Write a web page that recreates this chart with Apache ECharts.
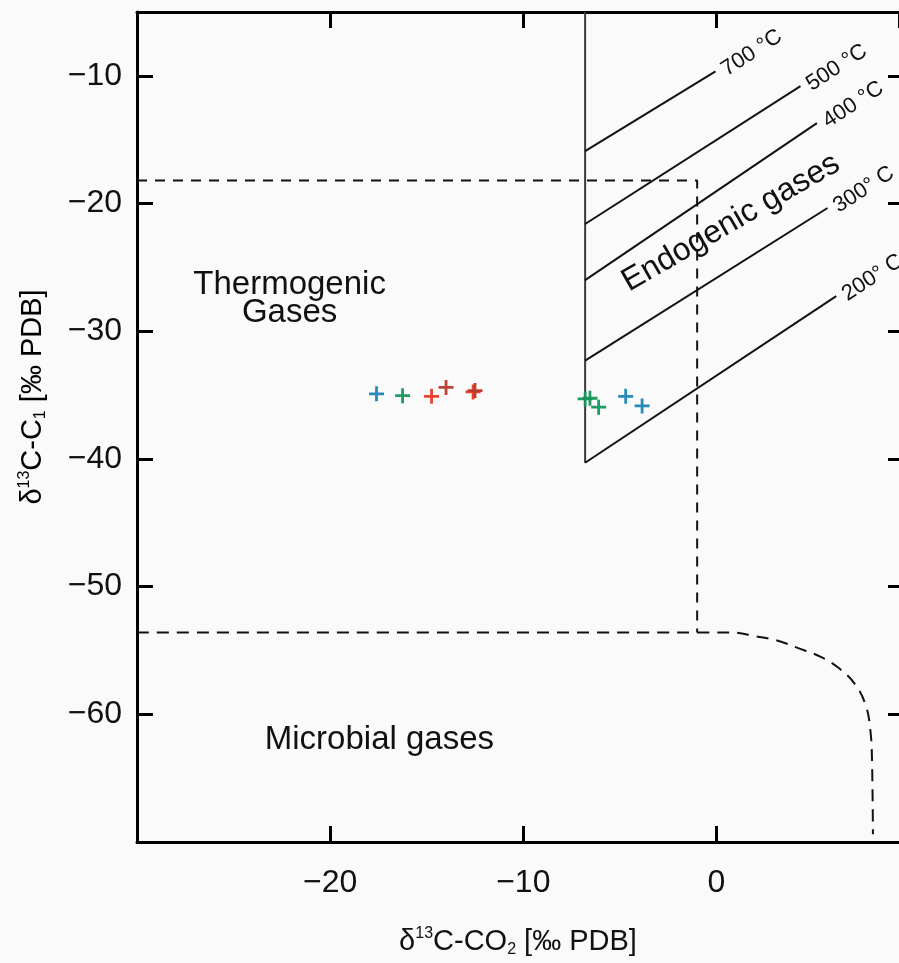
<!DOCTYPE html>
<html><head><meta charset="utf-8">
<script src="https://cdn.jsdelivr.net/npm/echarts@6/dist/echarts.min.js"></script>
<style>html,body{margin:0;padding:0;background:#fafafa}#c{width:899px;height:963px}</style>
</head><body><div id="c"></div>
<script>
// ---- data ----
const blueSamples = [[-17.6,-34.9],[-4.7,-35.1],[-3.85,-35.85]];
const greenSamples = [[-16.25,-35.05],[-6.8,-35.3],[-6.55,-35.25],[-6.1,-35.95]];
const redSamples = [[-14.75,-35.1],[-12.6,-34.75]];
const darkRedSamples = [[-14.0,-34.4],[-12.5,-34.65]];

const endogenicEdge = [[-6.8,-5],[-6.8,-40.3]];
const isothermNames = ['700 °C','500 °C','400 °C','300° C','200° C'];
const isothermStart = [[-6.8,-15.9],[-6.8,-21.6],[-6.8,-26.0],[-6.8,-32.3],[-6.8,-40.3]];
const isothermEnd = [[-0.05,-9.65],[4.35,-10.8],[5.2,-13.7],[5.75,-20.35],[6.2,-27.25]];

const thermoBoundary = [[-30,-18.2],[-1,-18.2],[-1,-53.6]];
const microbialBoundary = [[-30,-53.6],[0.9,-53.6],[2.05,-53.9],[3.1,-54.2],[4.2,-54.8],[5.4,-55.5],[6.35,-56.4],[7.2,-57.7],[7.75,-59.4],[7.97,-61.3],[8.05,-63.4],[8.1,-69.4]];

const fieldNames = ['Thermogenic\nGases','Microbial gases'];
const fieldPos = [[-22.1,-27.5],[-17.45,-62.0]];
const endogenicName = 'Endogenic gases';
const endogenicPos = [0.75,-21.5];

const xRange = [-30, 9.45];
const yRange = [-70, -5];

const xTitle = '{m|δ}{sup|13}{m|C-CO}{sub|2}{m| [‰ PDB]}';
const yTitle = '{m|δ}{sup|13}{m|C-C}{sub|1}{m| [‰ PDB]}';

// ---- chart ----
const FONT = '"Liberation Sans", Arial, sans-serif';
const TXT = '#111';
const minus = v => String(v).replace('-', '\u2212');
const crossPath = 'path://M6.5,0h3v6.5h6.5v3h-6.5v6.5h-3v-6.5h-6.5v-3h6.5z';
const richTitle = {
  m: {fontSize: 29, fontFamily: FONT, color: TXT, lineHeight: 32},
  sup: {fontSize: 16, fontFamily: FONT, color: TXT, verticalAlign: 'top', lineHeight: 32},
  sub: {fontSize: 16, fontFamily: FONT, color: TXT, verticalAlign: 'bottom', lineHeight: 32}
};

const axisCommon = {
  type: 'value', splitLine: {show: false},
  axisLine: {show: true, onZero: false, lineStyle: {color: '#000', width: 3}},
  axisTick: {show: true, inside: true, length: 16, lineStyle: {color: '#000', width: 3}}
};

function scatterSeries(data, color) {
  return {type: 'scatter', data: data, symbol: crossPath, symbolSize: 15,
    itemStyle: {color: color, opacity: 0.95}, z: 5, silent: true};
}
function lineSeries(data, color, width, type, smooth) {
  return {type: 'line', data: data, symbol: 'none', smooth: smooth || false, silent: true,
    lineStyle: {color: color, width: width, type: type || 'solid'}, z: 3};
}
function textSeries(data, label) {
  return {type: 'scatter', symbolSize: 0, silent: true, z: 6, data: data,
    itemStyle: {opacity: 1}, label: Object.assign({show: true, formatter: '{b}', fontFamily: FONT, color: TXT, opacity: 1}, label)};
}

const series = [];
series.push(lineSeries(thermoBoundary, '#111', 2, [10, 8]));
series.push(lineSeries(microbialBoundary, '#111', 2, [12, 8], 0.4));
series.push(lineSeries(endogenicEdge, '#3a3a3a', 2));
isothermNames.forEach((n, i) => {
  series.push(lineSeries([isothermStart[i], isothermEnd[i]], '#111', 2));
});
series.push(textSeries(isothermNames.map((n, i) => ({name: n, value: isothermEnd[i]})),
  {position: 'right', distance: 8, rotate: 33, fontSize: 22}));
series.push(textSeries(fieldNames.map((n, i) => ({name: n, value: fieldPos[i]})),
  {position: 'inside', fontSize: 33, lineHeight: 28, align: 'center', verticalAlign: 'middle'}));
series.push(textSeries([{name: endogenicName, value: endogenicPos}],
  {position: 'inside', fontSize: 32, rotate: 30, align: 'center', verticalAlign: 'middle'}));
series.push(scatterSeries(blueSamples, '#1a84b6'));
series.push(scatterSeries(greenSamples, '#12975a'));
series.push(scatterSeries(redSamples, '#ec3b22'));
series.push(scatterSeries(darkRedSamples, '#b8392a'));

const chart = echarts.init(document.getElementById('c'), null, {renderer: 'canvas'});
chart.setOption({
  backgroundColor: '#fafafa',
  animation: false,
  grid: {left: 137, top: 12, right: 0, height: 833, containLabel: false},
  xAxis: [
    Object.assign({}, axisCommon, {position: 'bottom', min: xRange[0], max: xRange[1], interval: 10,
      axisLabel: {show: true, showMinLabel: false, showMaxLabel: false, margin: 25, fontSize: 32, fontFamily: FONT, color: TXT, formatter: minus},
      name: xTitle, nameLocation: 'middle', nameGap: 84,
      nameTextStyle: {rich: richTitle}}),
    Object.assign({}, axisCommon, {position: 'top', min: xRange[0], max: xRange[1], interval: 10,
      axisLabel: {show: false}})
  ],
  yAxis: [
    Object.assign({}, axisCommon, {position: 'left', min: yRange[0], max: yRange[1], interval: 10,
      axisLabel: {show: true, showMinLabel: false, showMaxLabel: false, margin: 15, fontSize: 32, fontFamily: FONT, color: TXT, formatter: minus}}),
    Object.assign({}, axisCommon, {position: 'right', min: yRange[0], max: yRange[1], interval: 10,
      axisLine: {show: false, onZero: false},
      axisTick: {show: true, inside: true, length: 11, lineStyle: {color: '#000', width: 3}},
      axisLabel: {show: false}})
  ],
  graphic: [{
    type: 'text', x: 33, y: 397, rotation: Math.PI / 2, silent: true,
    style: {text: yTitle, rich: richTitle, align: 'center', verticalAlign: 'middle'}
  }],
  series: series
});
</script>
</body></html>
